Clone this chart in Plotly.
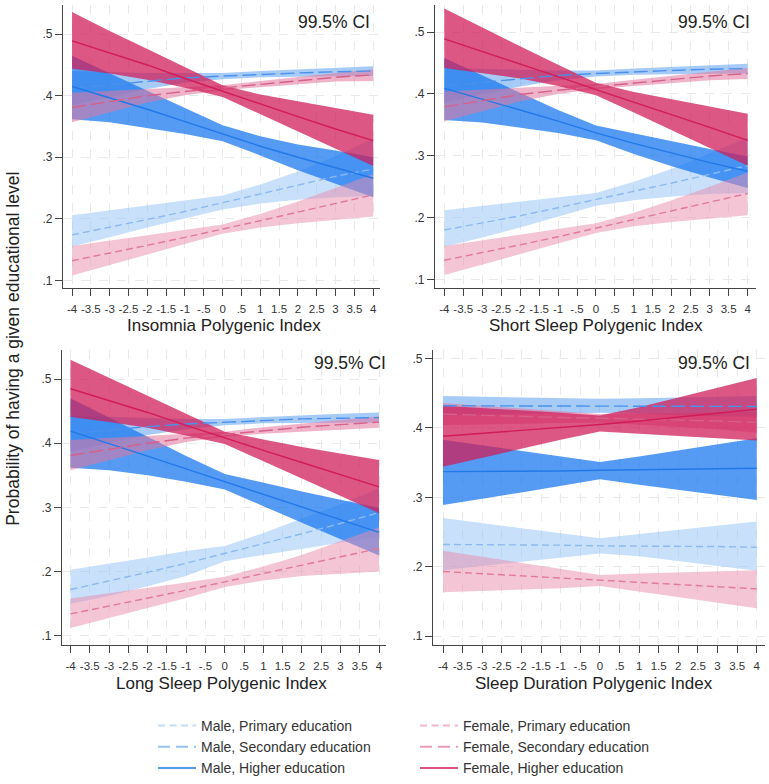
import plotly.graph_objects as go

# ---------------- data ----------------
X = [-4, -3, -2, -1, 0, 1, 2, 3, 4]
SERIES = ["Male, Primary education", "Male, Secondary education", "Male, Higher education",
          "Female, Primary education", "Female, Secondary education", "Female, Higher education"]
PANEL_TITLES = ["Insomnia Polygenic Index", "Short Sleep Polygenic Index",
                "Long Sleep Polygenic Index", "Sleep Duration Polygenic Index"]
X_TICKS = [-4, -3.5, -3, -2.5, -2, -1.5, -1, -0.5, 0, 0.5, 1, 1.5, 2, 2.5, 3, 3.5, 4]
X_TICK_LABELS = ["-4", "-3.5", "-3", "-2.5", "-2", "-1.5", "-1", "-.5", "0", ".5",
                 "1", "1.5", "2", "2.5", "3", "3.5", "4"]
Y_TICKS = [0.1, 0.2, 0.3, 0.4, 0.5]
Y_TICK_LABELS = [".1", ".2", ".3", ".4", ".5"]
CI_LABEL = "99.5% CI"
Y_TITLE = "Probability of having a given educational level"

# Insomnia (series order as SERIES)
INSOMNIA_LINE = [
    [.174, .186, .199, .212, .226, .240, .255, .269, .281],
    [.412, .418, .424, .429, .432, .435, .437, .439, .440],
    [.415, .397, .378, .358, .338, .318, .300, .283, .266],
    [.132, .144, .157, .170, .183, .197, .211, .225, .239],
    [.381, .391, .400, .407, .413, .419, .425, .430, .434],
    [.489, .470, .450, .428, .407, .386, .366, .346, .327]]
INSOMNIA_LO = [
    [.155, .170, .186, .201, .215, .225, .231, .235, .237],
    [.385, .398, .411, .421, .427, .430, .431, .432, .432],
    [.362, .357, .348, .338, .326, .303, .279, .257, .235],
    [.108, .125, .142, .159, .176, .186, .193, .199, .204],
    [.357, .373, .389, .401, .409, .414, .419, .423, .424],
    [.444, .436, .426, .413, .398, .370, .342, .314, .286]]
INSOMNIA_HI = [
    [.206, .214, .222, .230, .238, .256, .277, .302, .330],
    [.440, .438, .437, .437, .437, .440, .443, .446, .448],
    [.465, .436, .408, .380, .352, .334, .321, .311, .300],
    [.156, .165, .174, .183, .191, .208, .228, .250, .273],
    [.405, .408, .411, .413, .417, .424, .431, .437, .443],
    [.536, .505, .476, .446, .417, .402, .391, .380, .369]]

SHORT_LINE = [
    [.180, .191, .203, .216, .229, .242, .256, .270, .284],
    [.413, .419, .425, .430, .433, .436, .438, .440, .441],
    [.409, .392, .374, .356, .337, .320, .304, .289, .275],
    [.131, .143, .156, .169, .183, .197, .211, .225, .239],
    [.379, .389, .399, .406, .412, .418, .424, .429, .433],
    [.489, .469, .449, .428, .407, .387, .366, .346, .325]]
SHORT_LO = [
    [.153, .168, .184, .201, .219, .228, .234, .238, .240],
    [.386, .399, .412, .422, .428, .431, .432, .433, .433],
    [.358, .354, .346, .337, .325, .303, .283, .265, .248],
    [.107, .124, .141, .158, .175, .186, .193, .199, .204],
    [.356, .372, .388, .400, .408, .413, .418, .422, .424],
    [.442, .434, .425, .413, .398, .370, .342, .313, .284]]
SHORT_HI = [
    [.212, .219, .226, .233, .240, .258, .279, .304, .330],
    [.442, .440, .439, .438, .438, .441, .444, .447, .449],
    [.458, .430, .402, .374, .349, .336, .323, .311, .299],
    [.154, .163, .172, .182, .191, .208, .228, .250, .273],
    [.404, .407, .410, .412, .416, .423, .430, .436, .442],
    [.538, .507, .477, .447, .418, .403, .391, .380, .368]]

LONG_LINE = [
    [.172, .185, .199, .213, .228, .243, .259, .275, .292],
    [.415, .421, .426, .430, .433, .436, .438, .439, .440],
    [.419, .400, .380, .360, .340, .320, .300, .280, .261],
    [.134, .146, .158, .171, .184, .197, .210, .223, .236],
    [.381, .391, .400, .408, .414, .420, .425, .429, .433],
    [.485, .467, .448, .428, .408, .389, .370, .351, .332]]
LONG_LO = [
    [.150, .162, .177, .193, .216, .226, .236, .245, .254],
    [.387, .400, .413, .422, .428, .431, .432, .432, .432],
    [.362, .358, .350, .340, .328, .302, .276, .250, .225],
    [.112, .127, .143, .159, .176, .186, .193, .197, .200],
    [.358, .374, .389, .402, .410, .415, .419, .421, .424],
    [.441, .433, .424, .412, .399, .372, .345, .318, .291]]
LONG_HI = [
    [.203, .212, .222, .232, .240, .260, .282, .305, .330],
    [.443, .441, .439, .438, .438, .441, .444, .446, .448],
    [.470, .440, .410, .380, .352, .338, .325, .312, .299],
    [.158, .166, .174, .183, .192, .208, .226, .247, .269],
    [.405, .408, .411, .414, .418, .425, .431, .437, .442],
    [.530, .502, .474, .445, .418, .406, .394, .384, .374]]

DURATION_LINE = [
    [.232, .232, .231, .231, .230, .230, .229, .229, .228],
    [.432, .432, .432, .432, .432, .432, .431, .431, .431],
    [.337, .337, .338, .338, .339, .340, .340, .341, .342],
    [.193, .190, .187, .184, .181, .178, .174, .171, .168],
    [.420, .418, .417, .415, .414, .413, .411, .410, .408],
    [.388, .392, .396, .400, .405, .410, .416, .421, .427]]
DURATION_LO = [
    [.195, .201, .207, .213, .219, .215, .207, .201, .194],
    [.418, .419, .420, .421, .422, .421, .418, .417, .416],
    [.289, .298, .307, .316, .326, .318, .310, .303, .296],
    [.163, .165, .167, .169, .172, .164, .156, .148, .140],
    [.404, .405, .406, .407, .408, .405, .401, .398, .393],
    [.344, .357, .370, .383, .395, .392, .389, .385, .382]]
DURATION_HI = [
    [.270, .263, .255, .248, .241, .247, .253, .259, .265],
    [.446, .445, .444, .443, .442, .443, .444, .445, .446],
    [.383, .375, .367, .359, .351, .359, .368, .377, .385],
    [.223, .214, .205, .196, .188, .190, .192, .193, .195],
    [.436, .432, .428, .424, .420, .421, .421, .422, .423],
    [.432, .429, .426, .422, .418, .430, .444, .458, .472]]

PANEL_DATA = [(INSOMNIA_LINE, INSOMNIA_LO, INSOMNIA_HI),
              (SHORT_LINE, SHORT_LO, SHORT_HI),
              (LONG_LINE, LONG_LO, LONG_HI),
              (DURATION_LINE, DURATION_LO, DURATION_HI)]

# ---------------- style ----------------
W, H = 769, 784
BAND_COLORS = ["rgba(150,195,245,0.52)", "rgba(95,160,240,0.55)", "rgba(25,120,240,0.74)",
               "rgba(232,140,172,0.50)", "rgba(228,118,158,0.55)", "rgba(208,28,88,0.74)"]
LINE_COLORS = ["rgb(140,185,240)", "rgb(75,145,235)", "rgb(35,120,232)",
               "rgb(226,120,155)", "rgb(214,96,138)", "rgb(210,28,88)"]
LEGEND_COLORS = ["rgb(197,220,247)", "rgb(150,195,245)", "rgb(85,155,238)",
                 "rgb(244,182,200)", "rgb(236,155,182)", "rgb(222,80,126)"]
DASHES = ["7px,4px", "14px,5px", "solid", "7px,4px", "14px,5px", "solid"]
LEG_DASHES = ["7px,4.5px", "12px,6px", "solid", "7px,4.5px", "12px,6px", "solid"]
FONT = "Liberation Sans, Arial, sans-serif"

# panel pixel boxes: left, right, top, bottom, xrange, yrange
BOXES = [
    (63, 380, 5, 295, [-4.24, 4.18], [0.0873, 0.5476]),
    (435, 756, 5, 295, [-4.245, 4.22], [0.0858, 0.544]),
    (62, 386, 358, 660, [-4.22, 4.18], [0.0858, 0.5457]),
    (433, 765, 358, 660, [-4.255, 4.21], [0.0873, 0.5127]),
]
TITLE_POS = [(224, 333), (596, 333), (222, 700), (594, 700)]
CI_POS = [(334, 23), (714, 23), (350, 372), (714, 372)]

fig = go.Figure()
layout = dict(width=W, height=H, margin=dict(l=0, r=0, t=0, b=0),
              paper_bgcolor="white", plot_bgcolor="white", showlegend=True,
              font=dict(family=FONT, color="#222"))
annotations = []

for p, (box, data) in enumerate(zip(BOXES, PANEL_DATA)):
    l, r, t, b, xr, yr = box
    line, lo, hi = data
    sfx = "" if p == 0 else str(p + 1)
    xa, ya = "x" + sfx, "y" + sfx
    # bands
    for s in range(6):
        fig.add_trace(go.Scatter(
            x=X + X[::-1], y=hi[s] + lo[s][::-1], xaxis=xa, yaxis=ya,
            fill="toself", fillcolor=BAND_COLORS[s], mode="lines",
            line=dict(width=0, color=BAND_COLORS[s]), showlegend=False, hoverinfo="skip"))
    # lines
    for s in range(6):
        fig.add_trace(go.Scatter(
            x=X, y=line[s], xaxis=xa, yaxis=ya, mode="lines",
            line=dict(color=LINE_COLORS[s], width=1.4, dash=DASHES[s]),
            showlegend=False, name=SERIES[s]))
    axis_common = dict(showline=True, linecolor="#444", linewidth=1.3, ticks="outside",
                       ticklen=7, tickcolor="#444", showgrid=True, gridcolor="#e9e9e9",
                       griddash="dash", gridwidth=1, zeroline=False, tickangle=0)
    layout["xaxis" + sfx] = dict(domain=[l / W, r / W], range=xr, anchor=ya,
                                 tickvals=X_TICKS, ticktext=X_TICK_LABELS,
                                 tickfont=dict(size=11.5, color="#333"),
                                 ticklabelstandoff=3,
                                 **axis_common)
    layout["yaxis" + sfx] = dict(domain=[1 - b / H, 1 - t / H], range=yr, anchor=xa,
                                 tickvals=Y_TICKS, ticktext=Y_TICK_LABELS,
                                 tickfont=dict(size=12, color="#333"),
                                 **axis_common)
    tx, ty = TITLE_POS[p]
    annotations.append(dict(text=PANEL_TITLES[p], x=tx / W, y=1 - ty / H, xref="paper",
                            yref="paper", showarrow=False, xanchor="center", yanchor="middle",
                            font=dict(size=17, color="#222")))
    cx, cy = CI_POS[p]
    annotations.append(dict(text=CI_LABEL, x=cx / W, y=1 - cy / H, xref="paper",
                            yref="paper", showarrow=False, xanchor="center", yanchor="middle",
                            font=dict(size=17.5, color="#222")))

annotations.append(dict(text=Y_TITLE, x=13 / W, y=1 - 357 / H, xref="paper", yref="paper",
                        showarrow=False, textangle=-90, xanchor="center", yanchor="middle",
                        font=dict(size=17.5, color="#222")))

# legend entries
for s in range(6):
    fig.add_trace(go.Scatter(
        x=[None], y=[None], mode="lines", name=SERIES[s],
        line=dict(color=LEGEND_COLORS[s], width=2, dash=LEG_DASHES[s]),
        legend="legend" if s < 3 else "legend2"))

leg_common = dict(bgcolor="rgba(0,0,0,0)", borderwidth=0, orientation="v",
                  xanchor="left", yanchor="top", tracegroupgap=0, itemwidth=38,
                  font=dict(size=14, color="#333"))
layout["legend"] = dict(x=153 / W, y=1 - 727 / H, **leg_common)
layout["legend2"] = dict(x=415 / W, y=1 - 727 / H, **leg_common)
layout["annotations"] = annotations

fig.update_layout(**layout)
fig.write_html("out.html")
